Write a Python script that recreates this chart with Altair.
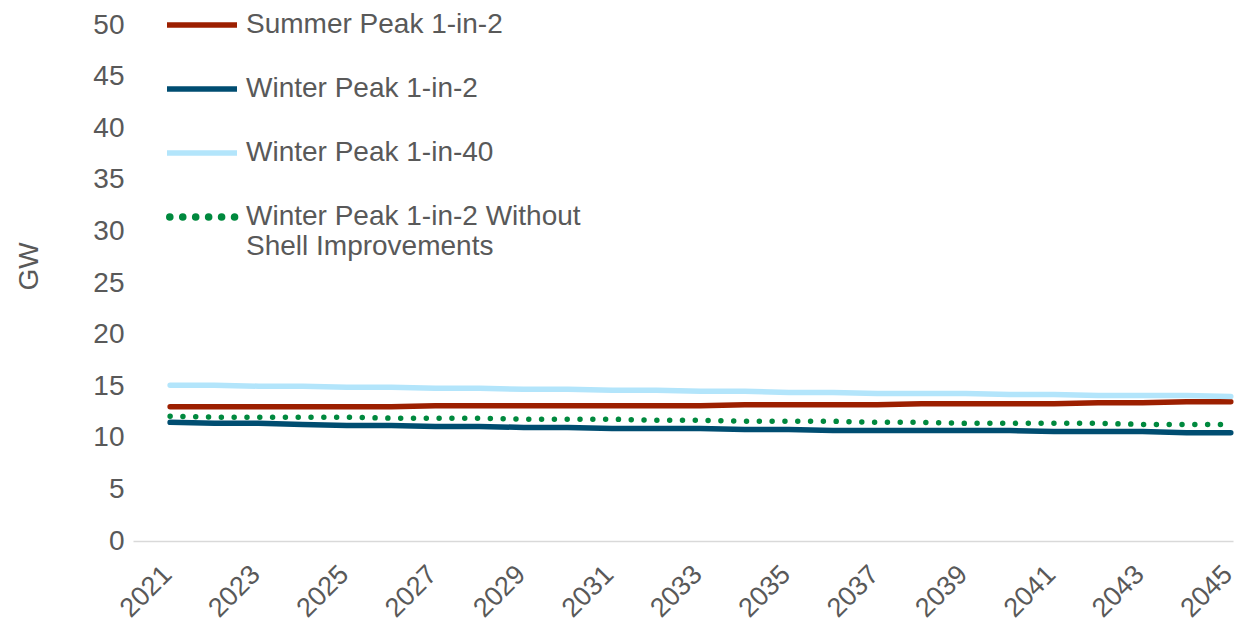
import altair as alt
import pandas as pd

years = list(range(2021, 2046))

summer_1in2 = [13.0, 13.0, 13.0, 13.0, 13.0, 13.0, 13.1, 13.1, 13.1, 13.1, 13.1, 13.1, 13.1,
               13.2, 13.2, 13.2, 13.2, 13.3, 13.3, 13.3, 13.3, 13.4, 13.4, 13.5, 13.5]
winter_1in2 = [11.5, 11.4, 11.4, 11.3, 11.2, 11.2, 11.1, 11.1, 11.0, 11.0, 10.9, 10.9, 10.9,
               10.8, 10.8, 10.7, 10.7, 10.7, 10.7, 10.7, 10.6, 10.6, 10.6, 10.5, 10.5]
winter_1in40 = [15.1, 15.1, 15.0, 15.0, 14.9, 14.9, 14.8, 14.8, 14.7, 14.7, 14.6, 14.6, 14.5,
                14.5, 14.4, 14.4, 14.3, 14.3, 14.3, 14.2, 14.2, 14.1, 14.1, 14.1, 14.0]
winter_no_shell = [12.1, 12.0, 12.0, 12.0, 12.0, 11.9, 11.9, 11.9, 11.8, 11.8, 11.8, 11.7, 11.7,
                   11.6, 11.6, 11.6, 11.5, 11.5, 11.4, 11.4, 11.4, 11.4, 11.3, 11.3, 11.3]

solid_names = ["Summer Peak 1-in-2", "Winter Peak 1-in-2", "Winter Peak 1-in-40"]
solid_values = [summer_1in2, winter_1in2, winter_1in40]
solid_colors = ["#9C1F00", "#004D71", "#B3E5FB"]
dotted_name = "Winter Peak 1-in-2 Without Shell Improvements"
dotted_color = "#00893E"

rows = []
for name, vals in zip(solid_names + [dotted_name], solid_values + [winter_no_shell]):
    for y, v in zip(years, vals):
        rows.append({"year": y, "gw": v, "series": name})
df = pd.DataFrame(rows)

FONT = "Liberation Sans"
TXT = "#595959"
FS = 28

# six round dots for the legend symbol of the dotted series
def dot(cx, cy, r=0.08):
    return f"M{cx - r},{cy} a{r},{r} 0 1,0 {2 * r},0 a{r},{r} 0 1,0 {-2 * r},0 "

dots_path = "".join(dot(cx, 0) for cx in [-0.92, -0.55, -0.18, 0.19, 0.56, 0.93])

legend_solid = alt.Legend(
    title=None, orient="none", legendX=31, legendY=-38, direction="vertical",
    symbolType="stroke", symbolSize=4900, symbolStrokeWidth=5.5,
    labelFont=FONT, labelFontSize=FS, labelColor=TXT, labelOffset=6,
    labelLimit=600, rowPadding=12, padding=0,
)

legend_dotted = alt.Legend(
    title=None, orient="none", legendX=33, legendY=156, direction="vertical",
    symbolType=dots_path, symbolSize=4900, symbolStrokeWidth=2,
    symbolFillColor=dotted_color, symbolStrokeColor=dotted_color,
    labelFont=FONT, labelFontSize=FS, labelColor=TXT, labelOffset=8,
    labelLimit=600, padding=0,
    labelExpr="['Winter Peak 1-in-2 Without', 'Shell Improvements']",
)

x_enc = alt.X(
    "year:Q",
    scale=alt.Scale(domain=[2020.16, 2045.05], nice=False, zero=False),
    axis=alt.Axis(
        values=years[::2], format="d", title=None, labelAngle=-45,
        labelAlign="right", labelBaseline="middle",
        labelFont=FONT, labelFontSize=27, labelColor=TXT,
        labelPadding=29, labelOffset=-3, ticks=False, grid=False,
        domainColor="#D9D9D9", domainWidth=1.5, labelFlush=False, labelOverlap=False,
    ),
)
y_enc = alt.Y(
    "gw:Q",
    scale=alt.Scale(domain=[0, 50], nice=False),
    axis=alt.Axis(
        values=list(range(0, 51, 5)), title="GW", titleFont=FONT, titleFontSize=FS,
        titleFontWeight="normal", titleColor=TXT, titlePadding=49, titleY=241,
        labelFont=FONT, labelFontSize=FS, labelColor=TXT, labelPadding=9,
        ticks=False, domain=False, grid=False,
    ),
)

base = alt.Chart(df)

dotted = base.transform_filter(
    alt.datum.series == dotted_name
).mark_line(strokeWidth=5.5, strokeCap="round", strokeDash=[0.01, 12.8]).encode(
    x=x_enc, y=y_enc,
    color=alt.Color("series:N", scale=alt.Scale(domain=[dotted_name], range=[dotted_color]),
                    legend=legend_dotted),
)

solid = base.transform_filter(
    alt.datum.series != dotted_name
).mark_line(strokeWidth=5.5, strokeCap="round", strokeJoin="round").encode(
    x=x_enc, y=y_enc,
    color=alt.Color("series:N", scale=alt.Scale(domain=solid_names, range=solid_colors),
                    legend=legend_solid),
)

chart = alt.layer(solid, dotted).resolve_scale(color="independent").properties(
    width=1100,
    height=516,
    background="white",
    autosize=alt.AutoSizeParams(type="none"),
    padding={"left": 125, "top": 17, "right": 6, "bottom": 85},
).configure_view(strokeWidth=0, stroke="transparent")

chart.save("out.html", embed_options={"renderer": "svg", "actions": False})
